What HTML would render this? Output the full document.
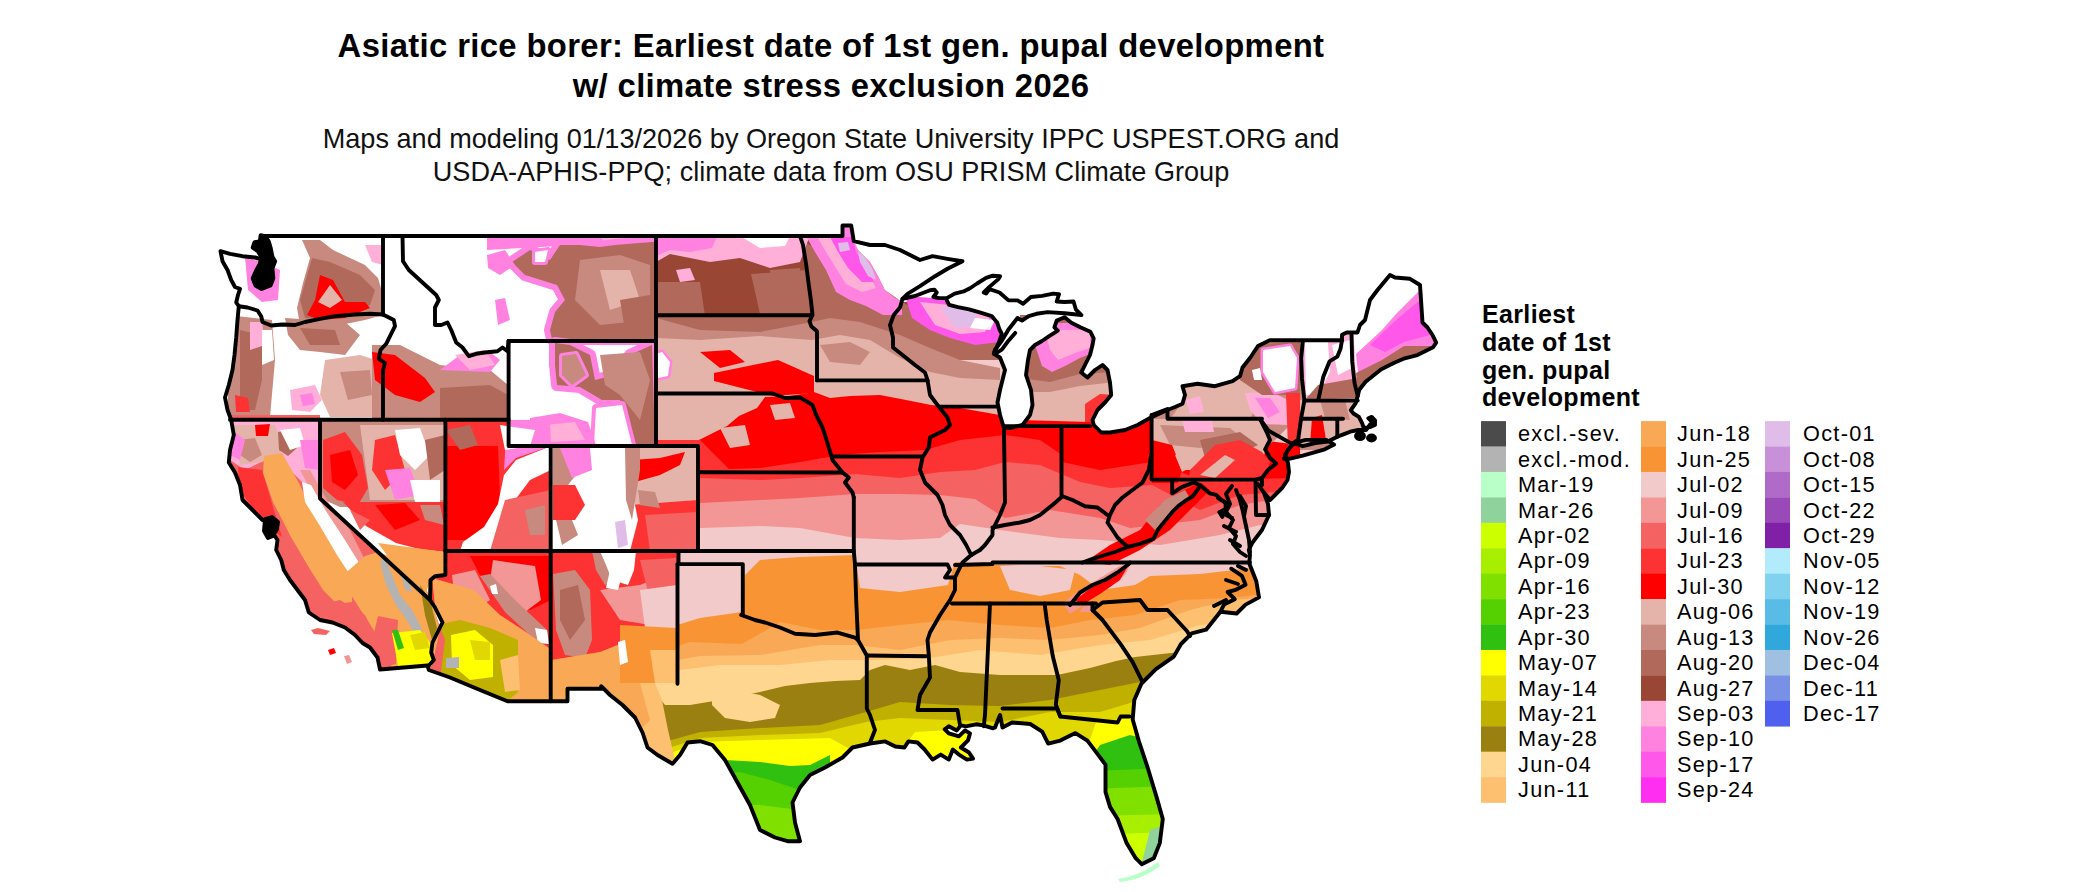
<!DOCTYPE html>
<html><head><meta charset="utf-8"><style>
html,body{margin:0;padding:0;background:#fff;}
body{width:2100px;height:892px;overflow:hidden;position:relative;font-family:"Liberation Sans",sans-serif;}
svg{position:absolute;left:0;top:0;}
.t{font-family:"Liberation Sans",sans-serif;font-weight:bold;font-size:32.8px;letter-spacing:0.36px;fill:#000;}
.s{font-family:"Liberation Sans",sans-serif;font-size:27.1px;fill:#111;}
.lt{font-family:"Liberation Sans",sans-serif;font-weight:bold;font-size:25px;letter-spacing:0.35px;fill:#000;}
.lg{font-family:"Liberation Sans",sans-serif;font-size:21.7px;fill:#000;letter-spacing:1.3px;}
</style></head><body>
<svg width="2100" height="892" viewBox="0 0 2100 892">
<text class="t" x="831" y="57.1" text-anchor="middle">Asiatic rice borer: Earliest date of 1st gen. pupal development</text>
<text class="t" x="831" y="97.1" text-anchor="middle">w/ climate stress exclusion 2026</text>
<text class="s" x="831" y="148.1" text-anchor="middle">Maps and modeling 01/13/2026 by Oregon State University IPPC USPEST.ORG and</text>
<text class="s" x="831" y="181" text-anchor="middle">USDA-APHIS-PPQ; climate data from OSU PRISM Climate Group</text>
<text class="lt" x="1482" y="322.8">Earliest</text>
<text class="lt" x="1482" y="350.6">date of 1st</text>
<text class="lt" x="1482" y="378.5">gen. pupal</text>
<text class="lt" x="1482" y="406.3">development</text>
<rect x="1481" y="421.10" width="25" height="25.73" fill="#4b4b4b"/>
<text x="1518" y="441.30" class="lg">excl.-sev.</text>
<rect x="1481" y="446.53" width="25" height="25.73" fill="#b3b3b3"/>
<text x="1518" y="466.73" class="lg">excl.-mod.</text>
<rect x="1481" y="471.96" width="25" height="25.73" fill="#b8ffc8"/>
<text x="1518" y="492.16" class="lg">Mar-19</text>
<rect x="1481" y="497.39" width="25" height="25.73" fill="#90d29c"/>
<text x="1518" y="517.59" class="lg">Mar-26</text>
<rect x="1481" y="522.82" width="25" height="25.73" fill="#ccff00"/>
<text x="1518" y="543.02" class="lg">Apr-02</text>
<rect x="1481" y="548.25" width="25" height="25.73" fill="#a8ee00"/>
<text x="1518" y="568.45" class="lg">Apr-09</text>
<rect x="1481" y="573.68" width="25" height="25.73" fill="#80e000"/>
<text x="1518" y="593.88" class="lg">Apr-16</text>
<rect x="1481" y="599.11" width="25" height="25.73" fill="#55d000"/>
<text x="1518" y="619.31" class="lg">Apr-23</text>
<rect x="1481" y="624.54" width="25" height="25.73" fill="#30c010"/>
<text x="1518" y="644.74" class="lg">Apr-30</text>
<rect x="1481" y="649.97" width="25" height="25.73" fill="#ffff00"/>
<text x="1518" y="670.17" class="lg">May-07</text>
<rect x="1481" y="675.40" width="25" height="25.73" fill="#e0d800"/>
<text x="1518" y="695.60" class="lg">May-14</text>
<rect x="1481" y="700.83" width="25" height="25.73" fill="#c0b000"/>
<text x="1518" y="721.03" class="lg">May-21</text>
<rect x="1481" y="726.26" width="25" height="25.73" fill="#9a8010"/>
<text x="1518" y="746.46" class="lg">May-28</text>
<rect x="1481" y="751.69" width="25" height="25.73" fill="#fed690"/>
<text x="1518" y="771.89" class="lg">Jun-04</text>
<rect x="1481" y="777.12" width="25" height="25.73" fill="#fdc070"/>
<text x="1518" y="797.32" class="lg">Jun-11</text>
<rect x="1641" y="421.10" width="25" height="25.73" fill="#f9a855"/>
<text x="1677" y="441.30" class="lg">Jun-18</text>
<rect x="1641" y="446.53" width="25" height="25.73" fill="#f99435"/>
<text x="1677" y="466.73" class="lg">Jun-25</text>
<rect x="1641" y="471.96" width="25" height="25.73" fill="#f2caca"/>
<text x="1677" y="492.16" class="lg">Jul-02</text>
<rect x="1641" y="497.39" width="25" height="25.73" fill="#f29696"/>
<text x="1677" y="517.59" class="lg">Jul-09</text>
<rect x="1641" y="522.82" width="25" height="25.73" fill="#f46262"/>
<text x="1677" y="543.02" class="lg">Jul-16</text>
<rect x="1641" y="548.25" width="25" height="25.73" fill="#fd3232"/>
<text x="1677" y="568.45" class="lg">Jul-23</text>
<rect x="1641" y="573.68" width="25" height="25.73" fill="#ff0000"/>
<text x="1677" y="593.88" class="lg">Jul-30</text>
<rect x="1641" y="599.11" width="25" height="25.73" fill="#e4b4aa"/>
<text x="1677" y="619.31" class="lg">Aug-06</text>
<rect x="1641" y="624.54" width="25" height="25.73" fill="#c88a7e"/>
<text x="1677" y="644.74" class="lg">Aug-13</text>
<rect x="1641" y="649.97" width="25" height="25.73" fill="#b0695a"/>
<text x="1677" y="670.17" class="lg">Aug-20</text>
<rect x="1641" y="675.40" width="25" height="25.73" fill="#9a4634"/>
<text x="1677" y="695.60" class="lg">Aug-27</text>
<rect x="1641" y="700.83" width="25" height="25.73" fill="#ffafd8"/>
<text x="1677" y="721.03" class="lg">Sep-03</text>
<rect x="1641" y="726.26" width="25" height="25.73" fill="#ff82e0"/>
<text x="1677" y="746.46" class="lg">Sep-10</text>
<rect x="1641" y="751.69" width="25" height="25.73" fill="#ff57ea"/>
<text x="1677" y="771.89" class="lg">Sep-17</text>
<rect x="1641" y="777.12" width="25" height="25.73" fill="#ff2ef0"/>
<text x="1677" y="797.32" class="lg">Sep-24</text>
<rect x="1765" y="421.10" width="25" height="25.73" fill="#e0bde8"/>
<text x="1803" y="441.30" class="lg">Oct-01</text>
<rect x="1765" y="446.53" width="25" height="25.73" fill="#c890d8"/>
<text x="1803" y="466.73" class="lg">Oct-08</text>
<rect x="1765" y="471.96" width="25" height="25.73" fill="#b06ac8"/>
<text x="1803" y="492.16" class="lg">Oct-15</text>
<rect x="1765" y="497.39" width="25" height="25.73" fill="#9a4ab8"/>
<text x="1803" y="517.59" class="lg">Oct-22</text>
<rect x="1765" y="522.82" width="25" height="25.73" fill="#8020a6"/>
<text x="1803" y="543.02" class="lg">Oct-29</text>
<rect x="1765" y="548.25" width="25" height="25.73" fill="#b2ecfc"/>
<text x="1803" y="568.45" class="lg">Nov-05</text>
<rect x="1765" y="573.68" width="25" height="25.73" fill="#80d2ee"/>
<text x="1803" y="593.88" class="lg">Nov-12</text>
<rect x="1765" y="599.11" width="25" height="25.73" fill="#58bce6"/>
<text x="1803" y="619.31" class="lg">Nov-19</text>
<rect x="1765" y="624.54" width="25" height="25.73" fill="#30a8dc"/>
<text x="1803" y="644.74" class="lg">Nov-26</text>
<rect x="1765" y="649.97" width="25" height="25.73" fill="#a0c0e2"/>
<text x="1803" y="670.17" class="lg">Dec-04</text>
<rect x="1765" y="675.40" width="25" height="25.73" fill="#7890e6"/>
<text x="1803" y="695.60" class="lg">Dec-11</text>
<rect x="1765" y="700.83" width="25" height="25.73" fill="#5060ee"/>
<text x="1803" y="721.03" class="lg">Dec-17</text>
<g>
<path d="M311 630 L318 628 L330 631 L326 635 L314 634 Z" fill="#f46262"/>
<path d="M328 650 L334 648 L336 653 L330 655 Z" fill="#ff0000"/>
<path d="M344 656 L349 655 L352 662 L347 664 Z" fill="#f29696"/>
<path d="M1118 879 Q1140 876 1158 862 L1160 866 Q1142 880 1120 882 Z" fill="#b8ffc8"/>
</g>
<defs><clipPath id="us"><path d="M220.5 251.2 L230.0 253.8 L242.5 256.2 L255.0 257.5 L263.8 260.0 L266.0 250.0 L263.0 241.0 L261.2 236.0 L842.5 236.0 L842.5 225.5 L851.2 225.5 L853.8 241.2 L870.0 245.0 L885.0 245.0 L900.0 250.0 L910.0 255.0 L920.0 260.0 L932.5 256.2 L947.5 258.8 L962.5 261.2 L947.5 268.8 L935.0 276.2 L920.0 286.2 L907.5 293.8 L902.5 298.8 L915.0 296.0 L930.0 290.3 L934.5 289.7 L936.7 292.5 L933.4 297.0 L939.0 298.1 L946.8 298.1 L954.7 293.6 L963.6 291.4 L970.4 288.0 L977.1 283.5 L986.1 277.9 L992.8 275.7 L1000.1 276.3 L998.4 279.1 L989.4 286.9 L983.8 292.5 L986.1 293.6 L989.4 289.2 L999.5 292.5 L1008.5 300.4 L1017.5 300.4 L1023.1 303.7 L1030.9 297.0 L1042.1 295.9 L1053.3 293.6 L1059.0 294.2 L1056.7 301.5 L1064.6 302.0 L1073.5 301.5 L1075.8 309.3 L1081.4 315.0 L1064.6 313.3 L1047.7 312.1 L1036.5 313.8 L1028.7 316.1 L1022.0 320.6 L1017.5 318.0 L1008.5 329.5 L1001.8 340.7 L995.0 349.7 L993.8 353.8 L1000.0 357.5 L1005.0 370.0 L1002.5 380.0 L1000.0 390.0 L997.5 402.5 L1000.0 415.0 L1003.8 427.5 L1010.0 428.0 L1022.5 425.0 L1030.0 415.0 L1032.5 405.0 L1031.0 390.0 L1026.0 375.0 L1028.0 360.0 L1030.0 350.0 L1035.0 345.0 L1042.0 341.0 L1048.8 336.3 L1057.8 330.6 L1054.4 327.3 L1056.7 320.6 L1064.6 317.2 L1071.3 322.8 L1080.3 327.3 L1090.4 331.8 L1093.7 338.5 L1092.5 345.0 L1090.0 355.0 L1085.0 365.0 L1081.2 372.5 L1087.5 377.5 L1095.0 370.0 L1102.5 365.0 L1107.5 370.0 L1110.0 382.5 L1111.2 395.0 L1105.0 402.5 L1097.5 410.0 L1092.5 420.0 L1093.8 425.0 L1101.2 432.5 L1110.0 432.5 L1125.0 430.0 L1137.5 425.0 L1150.0 418.0 L1165.0 411.0 L1175.0 407.0 L1182.5 403.8 L1185.0 395.0 L1182.5 386.2 L1197.5 383.8 L1215.0 386.2 L1232.5 381.2 L1240.0 376.2 L1242.5 367.5 L1250.0 358.0 L1258.0 346.0 L1269.8 340.2 L1342.0 340.2 L1342.0 334.7 L1346.8 332.4 L1357.5 332.5 L1360.0 325.0 L1365.0 320.0 L1367.5 310.0 L1370.0 300.0 L1377.5 290.0 L1390.0 275.0 L1395.0 277.5 L1410.0 278.8 L1420.0 285.0 L1422.5 322.5 L1427.5 327.5 L1432.5 335.0 L1436.2 342.6 L1433.1 347.3 L1417.4 355.1 L1404.8 358.3 L1393.8 363.0 L1381.3 369.2 L1373.4 375.5 L1365.6 381.8 L1359.3 389.7 L1357.7 395.9 L1355.6 403.4 L1350.8 410.2 L1353.5 413.5 L1358.9 416.9 L1362.3 423.6 L1363.6 427.7 L1370.3 427.0 L1375.0 425.0 L1375.0 420.3 L1371.7 416.9 L1368.3 418.2 L1372.0 422.0 L1366.0 430.0 L1358.2 430.0 L1350.2 431.7 L1343.4 434.4 L1337.3 436.8 L1327.9 441.5 L1315.4 443.0 L1302.8 446.2 L1293.4 443.0 L1288.0 450.0 L1285.0 455.0 L1288.0 463.0 L1289.0 472.0 L1287.5 480.0 L1282.5 487.5 L1275.0 495.0 L1270.0 500.0 L1262.0 490.0 L1258.0 484.0 L1264.0 493.0 L1268.0 504.0 L1269.0 515.0 L1262.0 530.0 L1252.5 542.5 L1248.8 550.0 L1250.0 555.0 L1249.2 563.3 L1256.3 581.3 L1259.0 597.4 L1245.6 604.6 L1236.6 613.5 L1220.4 611.7 L1206.1 629.7 L1191.7 633.3 L1181.0 644.0 L1173.8 656.6 L1155.9 669.1 L1141.5 683.5 L1134.3 700.0 L1132.7 719.5 L1138.7 740.6 L1147.7 767.7 L1156.8 797.9 L1162.8 819.0 L1159.8 843.1 L1153.8 858.2 L1141.7 864.2 L1135.7 858.2 L1126.6 843.1 L1117.6 819.0 L1110.0 806.9 L1105.5 791.9 L1105.5 764.7 L1096.5 752.7 L1087.4 740.6 L1075.4 733.1 L1060.3 740.6 L1048.2 743.6 L1042.2 731.6 L1030.2 724.0 L1012.0 722.5 L1002.5 727.5 L1000.0 715.0 L995.0 727.5 L993.2 728.3 L983.1 725.3 L976.0 724.3 L965.9 726.3 L960.9 725.3 L956.8 730.4 L948.8 726.3 L944.7 729.3 L948.8 733.4 L958.9 736.4 L965.0 730.4 L970.0 733.4 L968.0 740.4 L960.9 747.5 L969.0 752.5 L973.0 758.6 L966.9 759.6 L958.9 754.6 L952.8 749.5 L948.8 759.6 L940.7 754.6 L932.6 759.6 L924.6 749.5 L917.5 742.5 L908.4 741.4 L904.4 747.5 L895.3 746.5 L885.2 741.4 L870.1 743.5 L852.5 747.5 L842.5 757.5 L825.0 767.5 L810.0 775.0 L800.0 787.5 L792.5 802.5 L795.0 822.5 L800.0 841.2 L787.5 841.2 L775.0 837.5 L760.0 830.0 L750.0 805.0 L737.5 782.5 L725.0 760.0 L712.5 745.0 L700.0 741.2 L687.5 742.5 L680.0 755.0 L672.5 763.8 L657.5 755.0 L647.5 747.5 L642.5 732.5 L635.0 717.5 L622.5 705.0 L610.0 695.0 L601.2 686.2 L601.2 688.8 L567.5 688.8 L567.5 701.2 L507.5 701.2 L480.0 690.0 L450.0 677.5 L428.8 670.0 L427.5 665.5 L380.0 669.5 L377.5 657.5 L370.0 647.5 L362.5 643.0 L355.0 635.0 L345.0 627.5 L332.5 622.5 L320.0 620.0 L308.8 612.5 L305.0 600.0 L297.5 590.0 L290.0 580.0 L283.8 570.0 L281.2 560.0 L276.2 550.0 L277.5 540.0 L272.5 532.5 L268.8 522.5 L262.5 520.0 L252.5 510.0 L242.5 500.0 L240.0 485.0 L235.0 472.5 L228.8 462.5 L230.0 450.0 L233.8 435.0 L231.2 420.0 L227.5 410.0 L225.0 397.5 L228.8 385.0 L232.5 370.0 L234.5 355.0 L236.2 337.5 L237.5 320.0 L238.8 306.2 L236.2 302.5 L238.0 295.0 L240.0 288.8 L235.0 287.0 L231.2 280.0 L227.5 270.0 L222.5 261.2 Z"/><path d="M1293.4 443.0 L1305.9 439.9 L1326.3 439.9 L1334.2 444.6 L1324.8 449.3 L1302.8 455.6 L1290.2 458.7 L1284.0 458.7 L1288.0 450.0 Z"/></clipPath></defs>
<g clip-path="url(#us)">
<path d="M600 200 L1500 200 L1500 900 L600 900Z" fill="#f2caca"/>
<path d="M650 200 L1500 200 L1500 320 L650 320Z" fill="#9a4634"/>
<path d="M656 282 L700 282 L705 316 L656 316Z" fill="#b0695a"/>
<path d="M770 270 L800 268 L806 307 L772 310Z" fill="#b0695a"/>
<path d="M800 240 L860 270 L900 300 L930 320 L1000 330 L1000 360 L656 360 L656 316 L812 316Z" fill="#b0695a"/>
<path d="M656 900 L656 318 L700 330 L760 332 L812 322 L830 318 L860 322 L900 335 L930 348 L960 360 L1000 368 L1000 900Z" fill="#c88a7e"/>
<path d="M656 900 L656 338 L700 340 L760 336 L812 340 L840 335 L870 340 L900 358 L930 372 L960 378 L1000 380 L1000 900Z" fill="#e4b4aa"/>
<path d="M820 345 L850 342 L870 352 L860 365 L830 362Z" fill="#c88a7e"/>
<path d="M656 230 L812 230 L800 262 L770 268 L740 258 L710 262 L690 258 L670 254 L656 262Z" fill="#ffafd8"/>
<path d="M656 230 L720 230 L712 248 L690 252 L670 250 L656 256Z" fill="#ff82e0"/>
<path d="M740 236 L790 236 L785 246 L760 248Z" fill="#ffffff"/>
<path d="M676 270 L690 268 L695 280 L680 282Z" fill="#ffafd8"/>
<path d="M806 236 L842 236 L842 224 L852 224 L858 250 L870 262 L878 276 L885 290 L895 298 L902 302 L902 315 L883 315 L866 306 L850 300 L836 292 L826 270 L815 252Z" fill="#ff82e0"/>
<path d="M818 238 L850 238 L856 256 L866 270 L876 288 L862 292 L846 284 L836 268 L826 252Z" fill="#ffafd8"/>
<path d="M830 237 L852 237 L856 252 L866 266 L874 282 L862 282 L848 268 L838 252Z" fill="#ff57ea"/>
<path d="M852 236 L1000 236 L1000 300 L902 302 L885 290 L878 276 L870 262 L858 250Z" fill="#ffffff"/>
<path d="M858 252 L864 256 L872 268 L876 280 L868 276 L860 262Z" fill="#e0bde8"/>
<path d="M838 243 L848 242 L850 250 L840 252Z" fill="#e0bde8"/>
<path d="M905 296 L960 300 L995 310 L1000 320 L1000 342 L975 345 L950 338 L930 330 L912 318Z" fill="#ff57ea"/>
<path d="M920 302 L960 306 L990 316 L985 332 L960 334 L935 325Z" fill="#ffafd8"/>
<path d="M940 306 L975 310 L980 325 L955 328Z" fill="#e0bde8"/>
<path d="M975 318 L995 320 L990 330 L970 328Z" fill="#ffffff"/>
<path d="M947 298 L955 294 L964 291 L970 288 L977 284 L986 278 L993 276 L1000 276 L1008 300 L1018 300 L1023 304 L1031 297 L1042 296 L1053 294 L1059 294 L1057 302 L1065 302 L1074 302 L1076 309 L1081 315 L1065 313 L1048 312 L1036 314 L1029 316 L1022 321 L1018 318 L1008 330 L1002 341 L1000 330 L997 323 L992 316 L980 313 L969 309 L958 307 L949 305Z" fill="#ffffff"/>
<path d="M1020 315 L1115 315 L1115 400 L1020 400Z" fill="#b0695a"/>
<path d="M1033 324 L1095 322 L1095 352 L1080 358 L1065 366 L1052 372 L1042 366 L1035 345Z" fill="#ff82e0"/>
<path d="M1045 330 L1090 330 L1090 348 L1075 353 L1058 360 L1050 350Z" fill="#ffafd8"/>
<path d="M1020 900 L1020 378 L1050 382 L1080 374 L1115 372 L1115 900Z" fill="#c88a7e"/>
<path d="M1020 900 L1020 392 L1050 392 L1080 386 L1115 382 L1115 900Z" fill="#e4b4aa"/>
<path d="M1085 404 L1100 394 L1115 395 L1115 430 L1085 430Z" fill="#fd3232"/>
<path d="M652 355 L662 352 L670 362 L668 376 L658 378 L652 368Z" fill="#ff82e0" stroke="#ff82e0" stroke-width="5" stroke-linejoin="round"/><path d="M652 355 L662 352 L670 362 L668 376 L658 378 L652 368Z" fill="#ffffff"/>
<path d="M751 274 L808 270 L810 314 L760 314Z" fill="#b0695a"/>
<path d="M656 900 L656 452 L676 450 L701 439 L727 426 L739 416 L757 408 L765 397 L790 396 L814 392 L830 398 L850 396 L880 395 L906 400 L931 405 L960 408 L1000 415 L1020 420 L1090 422 L1130 420 L1152 415 L1155 440 L1190 440 L1210 440 L1260 440 L1300 445 L1300 900Z" fill="#ff0000"/>
<path d="M714 373 L778 360 L814 376 L814 393 L773 396 L714 381Z" fill="#ff0000"/>
<path d="M700 352 L730 350 L745 362 L720 368Z" fill="#ff0000"/>
<path d="M770 405 L790 403 L795 418 L775 420Z" fill="#e4b4aa"/>
<path d="M720 428 L745 425 L750 445 L730 448Z" fill="#e4b4aa"/>
<path d="M656 440 L700 440 L730 470 L656 470Z" fill="#fd3232"/>
<path d="M656 900 L656 472 L700 470 L760 468 L800 462 L840 455 L880 452 L925 450 L960 440 L1005 435 L1040 440 L1062 455 L1100 462 L1152 460 L1200 480 L1300 478 L1300 900Z" fill="#fd3232"/>
<path d="M656 900 L656 485 L700 478 L760 480 L800 478 L855 474 L900 478 L940 472 L975 470 L1005 462 L1040 465 L1080 482 L1110 488 L1152 485 L1200 510 L1240 495 L1300 490 L1300 900Z" fill="#f46262"/>
<path d="M656 900 L656 505 L700 503 L760 500 L800 498 L855 494 L900 494 L940 495 L975 499 L1005 518 L1050 510 L1100 518 L1130 528 L1200 520 L1240 505 L1300 495 L1300 900Z" fill="#f29696"/>
<path d="M656 900 L656 530 L700 528 L760 526 L800 528 L855 538 L900 540 L940 538 L960 524 L1000 530 L1060 538 L1100 540 L1160 545 L1220 535 L1260 525 L1300 520 L1300 900Z" fill="#f2caca"/>
<path d="M656 472 L680 470 L690 490 L670 505 L656 505Z" fill="#fd3232"/>
<path d="M1062 455 L1152 450 L1152 462 L1100 470 L1062 462Z" fill="#ff0000"/>
<path d="M1085 562 L1110 545 L1140 530 L1160 505 L1185 490 L1200 482 L1210 490 L1190 510 L1170 530 L1140 550 L1110 565Z" fill="#ff0000"/>
<path d="M1145 520 L1165 500 L1185 490 L1190 498 L1172 515 L1155 530Z" fill="#c88a7e"/>
<path d="M1152 419 L1152 430 L1185 440 L1200 450 L1230 455 L1262 450 L1275 440 L1290 425 L1300 400 L1300 340 L1152 340Z" fill="#c88a7e"/>
<path d="M1182 384 L1245 378 L1262 395 L1250 419 L1170 419 L1182 403Z" fill="#e4b4aa"/>
<path d="M1186 400 L1200 396 L1204 412 L1190 414Z" fill="#ffafd8"/>
<path d="M1245 393 L1272 392 L1288 400 L1288 425 L1262 424 L1250 410Z" fill="#ffafd8"/>
<path d="M1255 398 L1270 398 L1280 412 L1268 418Z" fill="#ff82e0"/>
<path d="M1240 345 L1300 342 L1300 395 L1262 395 L1240 380Z" fill="#b0695a"/>
<path d="M1263 350 L1290 346 L1297 358 L1295 388 L1275 392 L1263 372Z" fill="#ff82e0" stroke="#ff82e0" stroke-width="5" stroke-linejoin="round"/><path d="M1263 350 L1290 346 L1297 358 L1295 388 L1275 392 L1263 372Z" fill="#ffffff"/>
<path d="M1252 370 L1260 368 L1262 380 L1254 380Z" fill="#ffffff"/>
<path d="M1152 419 L1262 419 L1270 440 L1262 460 L1240 470 L1152 470Z" fill="#e4b4aa"/>
<path d="M1160 425 L1230 428 L1245 440 L1200 448 L1170 445Z" fill="#c88a7e"/>
<path d="M1182 420 L1212 420 L1214 432 L1185 432Z" fill="#ffafd8"/>
<path d="M1200 440 L1240 432 L1258 445 L1230 458 L1205 458Z" fill="#b0695a"/>
<path d="M1152 440 L1172 445 L1182 470 L1178 483 L1152 483Z" fill="#ff0000"/>
<path d="M1190 470 L1215 445 L1240 440 L1262 452 L1270 462 L1262 483 L1188 483Z" fill="#fd3232"/>
<path d="M1200 475 L1225 455 L1235 460 L1215 478Z" fill="#e4b4aa"/>
<path d="M1175 455 L1190 448 L1195 465 L1182 472Z" fill="#e4b4aa"/>
<path d="M1286 393 L1300 393 L1302 440 L1288 448Z" fill="#fd3232"/>
<path d="M1300 280 L1440 280 L1440 450 L1300 450Z" fill="#c88a7e"/>
<path d="M1302 340 L1355 332 L1358 385 L1318 399 L1302 400Z" fill="#ffafd8"/>
<path d="M1305 342 L1328 342 L1330 372 L1318 395 L1306 395Z" fill="#ffffff"/>
<path d="M1332 345 L1350 340 L1352 368 L1338 375Z" fill="#ffffff"/>
<path d="M1318 385 L1358 378 L1358 400 L1304 401Z" fill="#b0695a"/>
<path d="M1350 270 L1440 270 L1440 350 L1356 375Z" fill="#ffffff"/>
<path d="M1356 354 L1382 330 L1396 314 L1418 292 L1423 287 L1436 346 L1404 349 L1382 362 L1358 373Z" fill="#ff82e0"/>
<path d="M1370 345 L1396 320 L1420 300 L1430 335 L1404 342 L1385 352Z" fill="#ff57ea"/>
<path d="M1356 373 L1382 360 L1404 346 L1440 346 L1423 357 L1396 362 L1369 376 L1358 390Z" fill="#b0695a"/>
<path d="M1300 400 L1360 398 L1372 420 L1362 440 L1300 445Z" fill="#e4b4aa"/>
<path d="M1320 400 L1345 400 L1350 420 L1325 418Z" fill="#c88a7e"/>
<path d="M1312 418 L1322 415 L1326 440 L1310 445Z" fill="#ff0000"/>
<path d="M600 900 L600 650 L650 635 L677 625 L700 618 L742 612 L745 575 L760 560 L800 557 L855 555 L860 588 L900 592 L948 585 L955 562 L1000 565 L1020 566 L1060 566 L1080 575 L1100 590 L1135 585 L1150 576 L1200 574 L1252 568 L1300 560 L1300 900Z" fill="#f99435"/>
<path d="M600 900 L600 665 L650 655 L690 642 L742 644 L780 622 L820 630 L856 630 L900 625 L948 620 L1000 625 L1050 628 L1090 620 L1135 615 L1180 600 L1230 598 L1300 590 L1300 900Z" fill="#f9a855"/>
<path d="M600 900 L600 670 L650 665 L700 656 L760 655 L820 645 L856 645 L900 650 L950 640 L1000 638 L1050 640 L1100 635 L1140 628 L1190 610 L1230 600 L1300 595 L1300 900Z" fill="#fdc070"/>
<path d="M600 900 L600 690 L640 690 L680 670 L720 665 L780 665 L830 660 L870 660 L930 658 L980 650 L1040 655 L1100 645 L1150 640 L1200 625 L1300 615 L1300 900Z" fill="#fed690"/>
<path d="M600 900 L600 700 L657 695 L665 705 L690 705 L720 700 L760 692 L785 686 L810 683 L835 681 L860 680 L870 670 L885 665 L910 670 L935 665 L960 672 L1000 675 L1057 675 L1090 668 L1116 661 L1135 657 L1180 652 L1300 640 L1300 900Z" fill="#9a8010"/>
<path d="M712 694 L735 690 L760 695 L780 705 L775 718 L750 722 L725 718 L712 705Z" fill="#fed690"/>
<path d="M600 900 L600 760 L700 732 L760 728 L820 725 L866 712 L900 702 L950 705 L1000 706 L1050 700 L1100 690 L1140 682 L1300 670 L1300 900Z" fill="#c0b000"/>
<path d="M600 900 L600 770 L700 738 L760 735 L820 733 L866 722 L900 718 L950 720 L1000 722 L1050 712 L1100 712 L1140 700 L1300 690 L1300 900Z" fill="#e0d800"/>
<path d="M600 900 L600 780 L700 742 L760 740 L830 738 L866 758 L900 752 L915 732 L950 730 L990 740 L1040 760 L1090 740 L1096 722 L1130 718 L1300 700 L1300 900Z" fill="#ffff00"/>
<path d="M1000 566 L1040 566 L1075 570 L1070 590 L1040 596 L1010 590Z" fill="#f2caca"/>
<path d="M1063 603 L1080 590 L1100 578 L1120 566 L1131 563 L1125 575 L1105 590 L1085 604 L1070 614Z" fill="#f29696"/>
<path d="M1075 600 L1095 585 L1115 572 L1128 566 L1120 580 L1100 594 L1082 605Z" fill="#ff0000"/>
<path d="M1085 603 L1098 603 L1092 612 L1080 612Z" fill="#f29696"/>
<path d="M700 900 L700 760 L725 760 L760 762 L790 766 L810 765 L830 755 L830 900Z" fill="#30c010"/>
<path d="M600 683 L655 683 L662 700 L668 730 L675 760 L600 760Z" fill="#fdc070"/>
<path d="M600 683 L640 683 L650 720 L630 740 L600 730Z" fill="#f9a855"/>
<path d="M700 900 L700 775 L740 772 L770 780 L800 790 L800 900Z" fill="#55d000"/>
<path d="M700 900 L700 805 L760 805 L800 810 L800 900Z" fill="#80e000"/>
<path d="M1100 745 L1130 735 L1150 740 L1170 760 L1170 900 L1090 900 L1090 760Z" fill="#30c010"/>
<path d="M1090 771 L1170 768 L1170 900 L1090 900Z" fill="#55d000"/>
<path d="M1090 789 L1170 786 L1170 900 L1090 900Z" fill="#80e000"/>
<path d="M1090 816 L1170 814 L1170 900 L1090 900Z" fill="#a8ee00"/>
<path d="M1090 835 L1170 832 L1170 900 L1090 900Z" fill="#ccff00"/>
<path d="M1150 830 L1165 825 L1165 870 L1140 870Z" fill="#90d29c"/>
<path d="M200 200 L656 200 L656 446 L698 446 L698 551 L677 551 L677 683 L601 683 L601 690 L560 710 L200 710Z" fill="#ffffff"/>
<path d="M245 257 L262 262 L280 270 L278 300 L262 302 L248 290Z" fill="#ff82e0"/>
<path d="M302 240 L320 240 L333 250 L365 265 L378 278 L383 295 L383 315 L365 320 L340 325 L300 325 L297 308 L303 283 L310 258Z" fill="#c88a7e"/>
<path d="M312 258 L330 262 L360 275 L375 290 L370 305 L340 318 L305 318 L300 300Z" fill="#b0695a"/>
<path d="M320 275 L333 280 L345 302 L365 302 L370 308 L345 318 L320 320 L307 315 L315 300Z" fill="#ff0000"/>
<path d="M330 285 L342 300 L330 308 L318 302Z" fill="#e4b4aa"/>
<path d="M228 315 L272 320 L275 360 L270 417 L228 417Z" fill="#c88a7e"/>
<path d="M240 330 L262 335 L262 380 L255 410 L240 410Z" fill="#b0695a"/>
<path d="M235 395 L248 398 L250 412 L236 412Z" fill="#fd3232"/>
<path d="M365 245 L383 245 L383 265 L372 262Z" fill="#ffafd8"/>
<path d="M250 322 L262 322 L265 345 L250 350Z" fill="#ffafd8"/>
<path d="M262 330 L272 330 L274 360 L262 365Z" fill="#ffffff"/>
<path d="M285 318 L345 322 L360 335 L345 355 L320 352 L300 350 L288 335Z" fill="#c88a7e"/>
<path d="M300 328 L335 330 L340 345 L310 345Z" fill="#b0695a"/>
<path d="M325 360 L360 355 L382 362 L382 417 L330 417 L320 395Z" fill="#e4b4aa"/>
<path d="M340 372 L370 370 L372 395 L348 400Z" fill="#c88a7e"/>
<path d="M290 390 L315 385 L322 400 L310 412 L292 410Z" fill="#ffafd8"/>
<path d="M300 395 L312 393 L315 404 L303 406Z" fill="#ff82e0"/>
<path d="M372 345 L400 345 L440 365 L490 370 L508 385 L508 419 L372 419Z" fill="#c88a7e"/>
<path d="M372 352 L395 355 L425 378 L435 392 L420 402 L395 395 L375 380Z" fill="#ff0000"/>
<path d="M440 370 L490 372 L500 360 L490 352 L460 355Z" fill="#ff82e0"/>
<path d="M440 388 L490 385 L508 395 L508 419 L440 419Z" fill="#b0695a"/>
<path d="M455 355 L485 350 L495 365 L470 370Z" fill="#ffafd8"/>
<defs><clipPath id="wc"><rect x="0" y="0" width="656" height="892"/></clipPath></defs><g clip-path="url(#wc)">
<path d="M487 236 L656 236 L656 246 L600 248 L560 246 L487 250Z" fill="#ff82e0"/>
<path d="M600 236 L640 236 L635 242 L605 243Z" fill="#ffafd8"/>
<path d="M560 245 L580 245 L600 247 L615 245 L652 242 L656 242 L656 339 L552 339 L550 330 L555 312 L565 300 L557 285 L525 275 L512 262 L530 250 L550 260Z" fill="#ff82e0" stroke="#ff82e0" stroke-width="12" stroke-linejoin="round"/><path d="M560 245 L580 245 L600 247 L615 245 L652 242 L656 242 L656 339 L552 339 L550 330 L555 312 L565 300 L557 285 L525 275 L512 262 L530 250 L550 260Z" fill="#b0695a"/>
<path d="M580 260 L620 255 L650 265 L650 320 L600 325 L575 300Z" fill="#c88a7e"/>
<path d="M600 270 L630 270 L640 300 L610 310Z" fill="#e4b4aa"/>
<path d="M620 300 L650 295 L652 335 L625 330Z" fill="#b0695a"/>
<path d="M535 252 L548 250 L545 262 L535 262Z" fill="#ff82e0" stroke="#ff82e0" stroke-width="6" stroke-linejoin="round"/><path d="M535 252 L548 250 L545 262 L535 262Z" fill="#ffffff"/>
<path d="M487 255 L505 250 L515 265 L500 275 L488 268Z" fill="#ff82e0"/>
<path d="M495 300 L505 298 L510 320 L498 325Z" fill="#ff82e0"/>
<path d="M555 343 L570 345 L590 355 L595 380 L615 375 L630 355 L652 345 L655 445 L635 445 L630 425 L620 400 L602 400 L580 387 L557 385 L555 365Z" fill="#ff82e0" stroke="#ff82e0" stroke-width="12" stroke-linejoin="round"/><path d="M555 343 L570 345 L590 355 L595 380 L615 375 L630 355 L652 345 L655 445 L635 445 L630 425 L620 400 L602 400 L580 387 L557 385 L555 365Z" fill="#b0695a"/>
<path d="M600 355 L640 352 L650 380 L640 420 L620 395 L605 385Z" fill="#c88a7e"/>
<path d="M596 408 L622 405 L632 445 L594 445Z" fill="#ff82e0" stroke="#ff82e0" stroke-width="8" stroke-linejoin="round"/><path d="M596 408 L622 405 L632 445 L594 445Z" fill="#ffffff"/>
<path d="M562 356 L576 354 L586 375 L572 385 L562 375Z" fill="#ff82e0" stroke="#ff82e0" stroke-width="6" stroke-linejoin="round"/><path d="M562 356 L576 354 L586 375 L572 385 L562 375Z" fill="#c88a7e"/>
<path d="M530 418 L560 413 L588 422 L596 445 L530 445Z" fill="#ff82e0"/>
<path d="M545 425 L575 422 L585 440 L550 442Z" fill="#ffafd8"/>
</g>
<path d="M320 420 L445 420 L445 507 L340 507 L320 498Z" fill="#c88a7e"/>
<path d="M360 425 L445 425 L445 500 L370 500Z" fill="#e4b4aa"/>
<path d="M323 440 L345 432 L362 455 L368 488 L358 505 L337 500 L323 488Z" fill="#fd3232"/>
<path d="M330 455 L350 450 L358 475 L345 490 L332 482Z" fill="#ff0000"/>
<path d="M375 440 L395 435 L405 470 L385 490 L372 470Z" fill="#fd3232"/>
<path d="M395 430 L420 428 L430 455 L415 470 L400 455Z" fill="#ffffff"/>
<path d="M425 440 L445 435 L445 470 L430 480Z" fill="#b0695a"/>
<path d="M385 470 L410 468 L420 495 L395 500Z" fill="#ff82e0"/>
<path d="M410 480 L440 480 L440 502 L415 502Z" fill="#ffffff"/>
<path d="M343 502 L445 502 L445 552 L419 549 L396 543 L366 526Z" fill="#fd3232"/>
<path d="M375 505 L405 503 L420 520 L395 530Z" fill="#ff0000"/>
<path d="M420 505 L440 505 L444 525 L425 520Z" fill="#c88a7e"/>
<path d="M350 510 L370 520 L360 530Z" fill="#f46262"/>
<path d="M378 543 L445 552 L445 578 L431 578 L425 596 L404 578Z" fill="#f9a855"/>
<path d="M445 420 L508 420 L508 446 L551 446 L551 551 L445 551Z" fill="#fd3232"/>
<path d="M446 446 L498 446 L500 498 L490 540 L446 540Z" fill="#ff0000"/>
<path d="M463 542 L484 527 L498 504 L504 475 L516 460 L551 446 L551 470 L530 480 L515 500 L505 530 L490 551 L460 551Z" fill="#ffffff"/>
<path d="M507 420 L550 420 L551 446 L516 458 L504 470Z" fill="#ff82e0"/>
<path d="M500 425 L535 430 L530 446 L505 450Z" fill="#ffffff"/>
<path d="M505 500 L551 490 L551 551 L490 551Z" fill="#f46262"/>
<path d="M525 510 L545 505 L545 535 L530 535Z" fill="#c88a7e"/>
<path d="M446 430 L470 425 L478 445 L460 450Z" fill="#b0695a"/>
<path d="M551 446 L698 446 L698 551 L551 551Z" fill="#f46262"/>
<path d="M630 446 L698 446 L698 510 L630 510Z" fill="#e4b4aa"/>
<path d="M632 460 L660 458 L685 452 L680 465 L660 475 L635 482Z" fill="#ff0000"/>
<path d="M630 505 L698 500 L698 551 L630 551Z" fill="#fd3232"/>
<path d="M645 515 L698 512 L698 551 L650 551Z" fill="#f46262"/>
<path d="M638 490 L655 492 L660 508 L640 505Z" fill="#c88a7e"/>
<path d="M551 446 L632 446 L630 480 L638 520 L630 551 L551 551Z" fill="#ffffff"/>
<path d="M553 448 L575 448 L580 470 L568 485 L553 485Z" fill="#c88a7e"/>
<path d="M560 448 L590 448 L592 470 L572 478Z" fill="#ff82e0"/>
<path d="M553 485 L575 485 L585 505 L575 520 L553 520Z" fill="#fd3232"/>
<path d="M556 520 L572 520 L578 535 L562 545Z" fill="#c88a7e"/>
<path d="M615 522 L625 520 L628 545 L618 548Z" fill="#e0bde8"/>
<path d="M625 448 L640 446 L640 470 L632 520 L626 500Z" fill="#c88a7e"/>
<path d="M445 551 L551 551 L551 701 L507 701 L480 690 L450 677 L429 670 L433 660 L431 652 L433 642 L438 632 L443 622 L435 607 L430 600 L430 580 L445 575Z" fill="#fd3232"/>
<path d="M470 556 L551 556 L551 600 L530 610 L500 595 L480 575Z" fill="#ff0000"/>
<path d="M493 560 L535 566 L541 600 L525 612 L505 600 L490 580Z" fill="#f29696"/>
<path d="M452 575 L475 570 L490 600 L470 612 L455 600Z" fill="#f29696"/>
<path d="M480 576 L490 574 L515 600 L547 630 L549 644 L535 640 L505 612Z" fill="#c88a7e"/>
<path d="M535 628 L547 630 L549 644 L538 643Z" fill="#ffffff"/>
<path d="M490 586 L496 584 L498 594 L492 594Z" fill="#ffffff"/>
<path d="M432 578 L474 590 L500 615 L520 628 L549 648 L551 701 L507 701 L480 690 L450 677 L429 670 L433 642 L443 622 L435 607Z" fill="#f9a855"/>
<path d="M432 626 L460 620 L490 628 L518 640 L518 692 L507 701 L480 690 L450 677 L429 670Z" fill="#c0b000"/>
<path d="M451 635 L475 630 L493 645 L493 677 L470 680 L452 665Z" fill="#ffff00"/>
<path d="M470 640 L490 642 L490 660 L475 660Z" fill="#e0d800"/>
<path d="M446 658 L459 657 L459 668 L446 668Z" fill="#b3b3b3"/>
<path d="M500 660 L518 655 L520 690 L505 692Z" fill="#fdc070"/>
<path d="M431 656 L437 660 L436 672 L430 668Z" fill="#30c010"/>
<path d="M551 551 L678 551 L677 683 L601 683 L601 688 L567 688 L567 701 L551 701Z" fill="#f9a855"/>
<path d="M551 551 L678 551 L677 600 L655 620 L630 640 L600 652 L575 660 L551 660Z" fill="#fd3232"/>
<path d="M600 590 L640 585 L676 570 L677 620 L650 625 L620 620Z" fill="#f29696"/>
<path d="M640 560 L676 558 L677 600 L650 600Z" fill="#f46262"/>
<path d="M553 574 L575 570 L590 590 L592 640 L585 658 L565 655 L556 630Z" fill="#c88a7e"/>
<path d="M560 590 L578 585 L585 620 L570 640 L560 620Z" fill="#b0695a"/>
<path d="M592 551 L615 551 L625 565 L618 580 L605 585 L596 570Z" fill="#c88a7e"/>
<path d="M600 551 L636 551 L634 570 L628 585 L612 580 L606 565Z" fill="#ffffff"/>
<path d="M610 570 L622 575 L618 590 L606 588Z" fill="#ffffff"/>
<path d="M640 590 L677 585 L677 630 L645 628Z" fill="#f2caca"/>
<path d="M620 625 L677 628 L677 683 L620 683Z" fill="#f99435"/>
<path d="M650 650 L677 650 L677 683 L655 683Z" fill="#fdc070"/>
<path d="M551 660 L600 652 L615 683 L601 683 L601 688 L567 688 L567 701 L551 701Z" fill="#f9a855"/>
<path d="M618 642 L625 640 L628 662 L620 665Z" fill="#ffffff"/>
<path d="M215 415 L320 415 L320 498 L430 600 L445 640 L440 680 L370 680 L340 640 L300 625 L270 575 L250 530 L225 480 L215 440Z" fill="#f46262"/>
<path d="M228 420 L320 420 L320 500 L300 480 L275 455 L245 470 L230 460Z" fill="#ffafd8"/>
<path d="M232 425 L275 425 L285 450 L262 462 L240 465Z" fill="#e4b4aa"/>
<path d="M278 432 L292 430 L297 448 L288 456 L279 450Z" fill="#b0695a"/>
<path d="M238 440 L255 438 L262 455 L250 462 L240 455Z" fill="#c88a7e"/>
<path d="M255 425 L270 424 L268 436 L256 436Z" fill="#ff0000"/>
<path d="M280 430 L300 428 L305 445 L290 450Z" fill="#ffffff"/>
<path d="M300 440 L320 440 L320 470 L305 468Z" fill="#ff82e0"/>
<path d="M232 430 L245 440 L240 460 L230 455Z" fill="#ff82e0"/>
<path d="M238 467 L262 470 L282 537 L262 522 L240 490Z" fill="#fd3232"/>
<path d="M264 456 L282 453 L300 485 L311 511 L326 532 L340 555 L352 581 L352 602 L337 604 L323 590 L308 566 L291 537 L273 502 L263 473Z" fill="#f9a855"/>
<path d="M300 470 L310 470 L330 505 L350 530 L365 560 L368 580 L358 580Z" fill="#f29696"/>
<path d="M302 482 L311 485 L326 511 L343 537 L358 561 L361 578 L352 578 L337 555 L320 526 L305 502Z" fill="#ffffff"/>
<path d="M340 578 L365 556 L378 552 L400 560 L420 578 L432 600 L440 630 L432 665 L392 668 L380 640Z" fill="#f9a855"/>
<path d="M378 616 L398 620 L396 664 L380 668 L370 650Z" fill="#f46262"/>
<path d="M300 610 L340 600 L365 615 L378 640 L380 670 L355 640Z" fill="#f46262"/>
<path d="M385 558 L392 575 L400 595 L412 610 L420 625 L425 640 L432 650 L428 655 L418 640 L408 622 L396 605 L386 585 L380 562Z" fill="#b3b3b3"/>
<path d="M400 572 L408 578 L412 592 L405 590Z" fill="#b3b3b3"/>
<path d="M420 585 L430 600 L437 628 L432 640 L425 615Z" fill="#9a8010"/>
<path d="M392 633 L420 630 L432 645 L432 666 L398 666Z" fill="#ffff00"/>
<path d="M410 635 L425 632 L430 648 L415 650Z" fill="#e0d800"/>
<path d="M392 630 L398 630 L404 648 L398 650Z" fill="#30c010"/>
</g>
<g fill="none" stroke="#000" stroke-width="3.9" stroke-linejoin="round" stroke-linecap="round">
<path d="M220.5 251.2 L230.0 253.8 L242.5 256.2 L255.0 257.5 L263.8 260.0 L266.0 250.0 L263.0 241.0 L261.2 236.0 L842.5 236.0 L842.5 225.5 L851.2 225.5 L853.8 241.2 L870.0 245.0 L885.0 245.0 L900.0 250.0 L910.0 255.0 L920.0 260.0 L932.5 256.2 L947.5 258.8 L962.5 261.2 L947.5 268.8 L935.0 276.2 L920.0 286.2 L907.5 293.8 L902.5 298.8 L915.0 296.0 L930.0 290.3 L934.5 289.7 L936.7 292.5 L933.4 297.0 L939.0 298.1 L946.8 298.1 L954.7 293.6 L963.6 291.4 L970.4 288.0 L977.1 283.5 L986.1 277.9 L992.8 275.7 L1000.1 276.3 L998.4 279.1 L989.4 286.9 L983.8 292.5 L986.1 293.6 L989.4 289.2 L999.5 292.5 L1008.5 300.4 L1017.5 300.4 L1023.1 303.7 L1030.9 297.0 L1042.1 295.9 L1053.3 293.6 L1059.0 294.2 L1056.7 301.5 L1064.6 302.0 L1073.5 301.5 L1075.8 309.3 L1081.4 315.0 L1064.6 313.3 L1047.7 312.1 L1036.5 313.8 L1028.7 316.1 L1022.0 320.6 L1017.5 318.0 L1008.5 329.5 L1001.8 340.7 L995.0 349.7 L993.8 353.8 L1000.0 357.5 L1005.0 370.0 L1002.5 380.0 L1000.0 390.0 L997.5 402.5 L1000.0 415.0 L1003.8 427.5 L1010.0 428.0 L1022.5 425.0 L1030.0 415.0 L1032.5 405.0 L1031.0 390.0 L1026.0 375.0 L1028.0 360.0 L1030.0 350.0 L1035.0 345.0 L1042.0 341.0 L1048.8 336.3 L1057.8 330.6 L1054.4 327.3 L1056.7 320.6 L1064.6 317.2 L1071.3 322.8 L1080.3 327.3 L1090.4 331.8 L1093.7 338.5 L1092.5 345.0 L1090.0 355.0 L1085.0 365.0 L1081.2 372.5 L1087.5 377.5 L1095.0 370.0 L1102.5 365.0 L1107.5 370.0 L1110.0 382.5 L1111.2 395.0 L1105.0 402.5 L1097.5 410.0 L1092.5 420.0 L1093.8 425.0 L1101.2 432.5 L1110.0 432.5 L1125.0 430.0 L1137.5 425.0 L1150.0 418.0 L1165.0 411.0 L1175.0 407.0 L1182.5 403.8 L1185.0 395.0 L1182.5 386.2 L1197.5 383.8 L1215.0 386.2 L1232.5 381.2 L1240.0 376.2 L1242.5 367.5 L1250.0 358.0 L1258.0 346.0 L1269.8 340.2 L1342.0 340.2 L1342.0 334.7 L1346.8 332.4 L1357.5 332.5 L1360.0 325.0 L1365.0 320.0 L1367.5 310.0 L1370.0 300.0 L1377.5 290.0 L1390.0 275.0 L1395.0 277.5 L1410.0 278.8 L1420.0 285.0 L1422.5 322.5 L1427.5 327.5 L1432.5 335.0 L1436.2 342.6 L1433.1 347.3 L1417.4 355.1 L1404.8 358.3 L1393.8 363.0 L1381.3 369.2 L1373.4 375.5 L1365.6 381.8 L1359.3 389.7 L1357.7 395.9 L1355.6 403.4 L1350.8 410.2 L1353.5 413.5 L1358.9 416.9 L1362.3 423.6 L1363.6 427.7 L1370.3 427.0 L1375.0 425.0 L1375.0 420.3 L1371.7 416.9 L1368.3 418.2 L1372.0 422.0 L1366.0 430.0 L1358.2 430.0 L1350.2 431.7 L1343.4 434.4 L1337.3 436.8 L1327.9 441.5 L1315.4 443.0 L1302.8 446.2 L1293.4 443.0 L1288.0 450.0 L1285.0 455.0 L1288.0 463.0 L1289.0 472.0 L1287.5 480.0 L1282.5 487.5 L1275.0 495.0 L1270.0 500.0 L1262.0 490.0 L1258.0 484.0 L1264.0 493.0 L1268.0 504.0 L1269.0 515.0 L1262.0 530.0 L1252.5 542.5 L1248.8 550.0 L1250.0 555.0 L1249.2 563.3 L1256.3 581.3 L1259.0 597.4 L1245.6 604.6 L1236.6 613.5 L1220.4 611.7 L1206.1 629.7 L1191.7 633.3 L1181.0 644.0 L1173.8 656.6 L1155.9 669.1 L1141.5 683.5 L1134.3 700.0 L1132.7 719.5 L1138.7 740.6 L1147.7 767.7 L1156.8 797.9 L1162.8 819.0 L1159.8 843.1 L1153.8 858.2 L1141.7 864.2 L1135.7 858.2 L1126.6 843.1 L1117.6 819.0 L1110.0 806.9 L1105.5 791.9 L1105.5 764.7 L1096.5 752.7 L1087.4 740.6 L1075.4 733.1 L1060.3 740.6 L1048.2 743.6 L1042.2 731.6 L1030.2 724.0 L1012.0 722.5 L1002.5 727.5 L1000.0 715.0 L995.0 727.5 L993.2 728.3 L983.1 725.3 L976.0 724.3 L965.9 726.3 L960.9 725.3 L956.8 730.4 L948.8 726.3 L944.7 729.3 L948.8 733.4 L958.9 736.4 L965.0 730.4 L970.0 733.4 L968.0 740.4 L960.9 747.5 L969.0 752.5 L973.0 758.6 L966.9 759.6 L958.9 754.6 L952.8 749.5 L948.8 759.6 L940.7 754.6 L932.6 759.6 L924.6 749.5 L917.5 742.5 L908.4 741.4 L904.4 747.5 L895.3 746.5 L885.2 741.4 L870.1 743.5 L852.5 747.5 L842.5 757.5 L825.0 767.5 L810.0 775.0 L800.0 787.5 L792.5 802.5 L795.0 822.5 L800.0 841.2 L787.5 841.2 L775.0 837.5 L760.0 830.0 L750.0 805.0 L737.5 782.5 L725.0 760.0 L712.5 745.0 L700.0 741.2 L687.5 742.5 L680.0 755.0 L672.5 763.8 L657.5 755.0 L647.5 747.5 L642.5 732.5 L635.0 717.5 L622.5 705.0 L610.0 695.0 L601.2 686.2 L601.2 688.8 L567.5 688.8 L567.5 701.2 L507.5 701.2 L480.0 690.0 L450.0 677.5 L428.8 670.0 L427.5 665.5 L380.0 669.5 L377.5 657.5 L370.0 647.5 L362.5 643.0 L355.0 635.0 L345.0 627.5 L332.5 622.5 L320.0 620.0 L308.8 612.5 L305.0 600.0 L297.5 590.0 L290.0 580.0 L283.8 570.0 L281.2 560.0 L276.2 550.0 L277.5 540.0 L272.5 532.5 L268.8 522.5 L262.5 520.0 L252.5 510.0 L242.5 500.0 L240.0 485.0 L235.0 472.5 L228.8 462.5 L230.0 450.0 L233.8 435.0 L231.2 420.0 L227.5 410.0 L225.0 397.5 L228.8 385.0 L232.5 370.0 L234.5 355.0 L236.2 337.5 L237.5 320.0 L238.8 306.2 L236.2 302.5 L238.0 295.0 L240.0 288.8 L235.0 287.0 L231.2 280.0 L227.5 270.0 L222.5 261.2 Z"/>
<path d="M1293.4 443.0 L1305.9 439.9 L1326.3 439.9 L1334.2 444.6 L1324.8 449.3 L1302.8 455.6 L1290.2 458.7 L1284.0 458.7 L1288.0 450.0 Z"/>
<path d="M260.7 235.2 L265.2 236.1 L268.8 241.5 L270.6 247.7 L272.4 256.7 L275.1 261.2 L272.4 268.4 L273.3 278.2 L270.6 285.4 L261.6 289.0 L255.4 285.4 L252.7 278.2 L256.3 270.2 L259.8 263.9 L261.6 257.6 L258.0 251.3 L252.7 247.7 L254.5 242.3 L259.8 241.5 Z" fill="#000" stroke-width="4"/>
<path d="M265 519 L272 517 L278 522 L277 529 L273 536 L268 538 L264 531 Z" fill="#000"/>
<ellipse cx="1360" cy="436" rx="4" ry="3" fill="#000"/><ellipse cx="1371.5" cy="438" rx="3.5" ry="2.5" fill="#000"/>
<path d="M238.8 306.2 L247.5 307.5 L257.5 310.5 L261.2 316.2 L262.5 322.0 L271.2 325.5 L282.5 324.5 L295.0 325.0 L305.0 322.0 L320.0 318.8 L335.0 316.2 L355.0 314.5 L370.0 313.8 L383.0 314.5"/>
<path d="M383.0 236.0 L383.0 314.5"/>
<path d="M383.0 314.5 L393.8 320.0 L395.0 326.2 L390.0 336.2 L386.2 343.8 L380.5 350.0 L378.8 358.8 L385.0 363.0 L383.0 370.0 L383.0 419.8"/>
<path d="M402.5 236.0 L403.0 261.2 L408.8 270.0 L422.5 282.5 L436.2 295.0 L438.8 300.0 L435.0 307.5 L435.0 325.0 L441.2 325.0 L447.5 322.5 L451.2 330.0 L456.2 342.5 L462.5 347.5 L468.8 356.2 L476.2 353.8 L485.0 352.5 L497.5 351.2 L502.5 347.5 L507.5 351.2 L508.6 341.0"/>
<path d="M230.0 419.8 L508.6 419.8"/>
<path d="M320.0 419.8 L320.0 498.5 L430.0 600.0 L435.0 607.5 L442.5 622.5 L437.5 632.5 L432.5 642.5 L431.2 652.5 L433.8 660.0 L428.8 665.5"/>
<path d="M445.4 419.8 L445.4 575.0 L435.0 576.2 L430.5 580.0 L430.0 600.0"/>
<path d="M508.6 341.0 L508.6 446.0 L550.7 446.0"/>
<path d="M508.6 341.0 L656.0 341.0 L656.0 446.0 L550.7 446.0"/>
<path d="M550.7 446.0 L550.7 551.0 L698.0 551.0 L698.0 472.2"/>
<path d="M656.0 446.0 L698.0 446.0 L698.0 472.2"/>
<path d="M445.4 551.0 L550.7 551.0"/>
<path d="M550.7 551.0 L550.7 701.2"/>
<path d="M678.5 551.0 L678.5 564.1 L677.5 564.1 L677.5 683.8"/>
<path d="M677.5 564.1 L742.8 564.1 L742.8 615.0"/>
<path d="M741.2 615.0 L755.0 620.0 L765.0 622.5 L780.0 627.5 L795.0 633.8 L815.0 635.0 L837.5 632.5 L855.0 637.5 L858.0 640.0"/>
<path d="M656.0 236.0 L656.0 341.0"/>
<path d="M656.0 315.3 L812.0 315.3"/>
<path d="M656.0 393.5 L772.5 393.5 L785.0 398.0 L800.0 397.5 L812.5 405.0 L816.2 415.0 L822.5 427.5 L827.5 443.0 L832.5 460.0 L842.5 472.5 L848.8 477.5 L845.0 482.5 L852.5 492.5 L853.8 497.5"/>
<path d="M698.0 472.2 L842.5 472.5"/>
<path d="M853.8 497.5 L853.8 551.0 L698.0 551.0"/>
<path d="M853.8 551.0 L855.0 564.5 L856.2 600.0 L858.0 640.0 L866.8 655.5 L866.8 708.5 L870.0 715.0 L875.0 730.0 L870.0 742.5"/>
<path d="M866.8 655.5 L926.2 656.2"/>
<path d="M855.0 564.5 L947.5 564.5 L950.0 570.0 L945.0 577.5 L955.0 577.5"/>
<path d="M800.0 236.0 L803.0 245.0 L806.2 265.0 L808.8 285.0 L811.2 302.5 L812.5 315.0 L809.5 321.2 L811.2 326.2 L817.0 331.2 L817.0 380.4"/>
<path d="M817.0 380.4 L927.5 380.4"/>
<path d="M832.5 456.5 L922.5 456.5"/>
<path d="M902.5 298.8 L900.0 307.5 L893.8 315.0 L890.0 325.0 L893.0 337.5 L893.0 347.5 L902.5 355.0 L915.0 365.0 L925.0 372.5 L927.5 380.0 L930.0 395.0 L937.5 405.0 L947.5 417.5 L950.0 425.0 L945.0 430.0 L930.0 437.5 L928.8 447.5 L922.5 457.5 L920.0 470.0 L925.0 482.5 L937.5 495.0 L942.5 505.0 L945.0 515.0 L950.0 525.0 L960.0 535.0 L966.2 545.0 L971.2 555.0"/>
<path d="M971.2 555.0 L962.5 562.5 L955.0 577.5 L955.0 590.0 L950.0 600.0 L940.0 615.0 L930.0 632.5 L927.5 640.0 L928.8 655.0 L930.0 677.5 L920.0 695.0 L917.5 710.0 L957.5 710.0 L960.0 725.0"/>
<path d="M940.0 406.6 L997.5 406.6"/>
<path d="M946.8 300.4 L949.1 304.9 L958.0 307.1 L969.2 309.3 L980.5 312.7 L991.7 316.1 L997.3 322.8 L999.5 329.5 L1001.8 334.0 L999.5 340.7 L996.2 348.6 L993.9 353.1"/>
<path d="M1015.2 332.9 L1008.5 340.7 L1001.8 349.7 L996.2 353.1"/>
<path d="M1003.8 426.1 L1090.0 426.1"/>
<path d="M1003.9 426.1 L1005.0 502.5 L1000.0 515.0 L995.0 525.0 L992.5 530.0 L992.5 535.0 L985.0 545.0 L980.0 550.0 L971.2 555.0"/>
<path d="M1061.5 426.1 L1061.5 496.2"/>
<path d="M992.5 527.5 L1005.0 525.0 L1020.0 522.5 L1030.0 520.0 L1040.0 515.0 L1052.5 505.0 L1062.5 496.2 L1072.5 500.0 L1085.0 506.2 L1097.5 507.5 L1107.5 515.0"/>
<path d="M1151.6 415.0 L1151.6 455.0"/>
<path d="M1151.2 455.0 L1148.8 470.0 L1142.5 482.5 L1132.5 490.0 L1122.5 497.5 L1115.0 505.0 L1110.0 515.0 L1107.5 522.5 L1112.5 530.0 L1117.5 537.5 L1122.5 542.5 L1128.3 546.8"/>
<path d="M1128.3 546.8 L1140.8 543.6 L1153.4 538.9 L1158.1 529.5 L1164.4 521.6 L1172.2 512.2 L1178.5 505.9 L1184.8 501.2 L1192.6 496.5 L1197.3 490.2 L1200.5 485.5"/>
<path d="M1151.6 455.0 L1151.6 479.6 L1172.2 479.6 L1172.2 493.4 L1181.6 487.1 L1194.2 482.4 L1200.5 485.5 L1209.9 493.4 L1216.2 494.9 L1220.9 499.7 L1225.6 502.8 L1225.6 509.1 L1219.3 512.2 L1222.4 516.9"/>
<path d="M1172.2 479.6 L1255.5 479.6 L1262.0 478.0 L1262.0 485.0"/>
<path d="M1255.5 479.6 L1256.0 515.0 L1269.0 515.0"/>
<path d="M1128.3 546.8 L1115.0 552.0 L1105.0 555.0 L1092.5 558.8 L1082.5 562.5"/>
<path d="M955.0 565.0 L992.5 564.0 L992.5 562.5 L1250.0 562.5"/>
<path d="M952.0 603.5 L1096.0 603.5"/>
<path d="M1070.0 605.0 L1080.0 592.5 L1092.5 585.0 L1105.0 580.0 L1117.5 572.5 L1127.5 565.0 L1130.0 562.5"/>
<path d="M1092.5 610.0 L1102.5 602.5 L1140.0 600.0 L1147.5 610.0 L1167.5 610.0 L1186.9 631.0 L1190.0 636.0"/>
<path d="M1092.5 603.5 L1092.5 610.0 L1102.5 620.0 L1120.6 644.1 L1132.7 662.2 L1141.7 680.3"/>
<path d="M990.0 603.5 L985.0 715.0 L983.8 726.2"/>
<path d="M1044.6 603.5 L1046.7 620.0 L1052.8 656.2 L1058.8 680.3 L1055.8 704.4 L1060.3 716.5"/>
<path d="M1002.5 708.5 L1057.0 708.5 L1060.3 716.5 L1117.6 722.5 L1120.6 716.5 L1129.6 716.5"/>
<path d="M1151.6 415.0 L1167.5 409.0 L1167.5 418.8 L1262.0 418.8"/>
<path d="M1260.4 419.5 L1268.3 430.5 L1293.4 444.6"/>
<path d="M1260.4 419.5 L1266.7 432.0 L1270.0 440.0 L1265.1 449.3 L1270.0 458.0 L1276.1 463.4 L1268.0 470.0 L1262.0 478.0"/>
<path d="M1302.8 341.0 L1301.2 358.3 L1302.0 378.7 L1304.4 400.6 L1301.2 417.9 L1298.1 439.9 L1293.4 443.0"/>
<path d="M1342.0 340.2 L1340.5 348.8 L1337.3 356.7 L1329.5 361.4 L1323.2 377.1 L1318.5 399.1"/>
<path d="M1351.5 334.7 L1352.2 361.4 L1354.6 383.4 L1357.7 395.9"/>
<path d="M1304.4 400.6 L1357.7 400.6"/>
<path d="M1301.2 418.7 L1343.0 418.7"/>
<path d="M1337.3 418.7 L1337.3 436.8"/>
<path d="M1231.2 568.7 L1242.0 575.9 L1245.6 584.8 L1234.8 590.2 L1227.6 592.0 L1234.8 599.2 L1224.0 604.6 L1220.4 611.7"/>
<path d="M1238.0 566.0 L1246.0 570.0"/>
<path d="M1226.0 580.0 L1238.0 584.0"/>
<path d="M1214.0 606.0 L1226.0 600.0"/>
<path d="M1236.0 490.0 L1240.0 500.0 L1243.0 512.0 L1246.0 526.0 L1249.0 540.0 L1250.0 552.0"/>
<path d="M1232.0 486.0 L1226.0 494.0 L1230.0 504.0 L1226.0 512.0 L1233.0 520.0 L1229.0 528.0 L1236.0 536.0 L1233.0 544.0 L1240.0 552.0 L1246.0 556.0"/>
<path d="M1218.0 498.0 L1228.0 504.0"/>
<path d="M1220.0 512.0 L1232.0 518.0"/>
<path d="M1224.0 526.0 L1236.0 532.0"/>
<path d="M1230.0 540.0 L1240.0 546.0"/>
<path d="M1240.0 496.0 L1246.0 506.0 L1244.0 516.0"/>
</g>
</svg>
</body></html>
